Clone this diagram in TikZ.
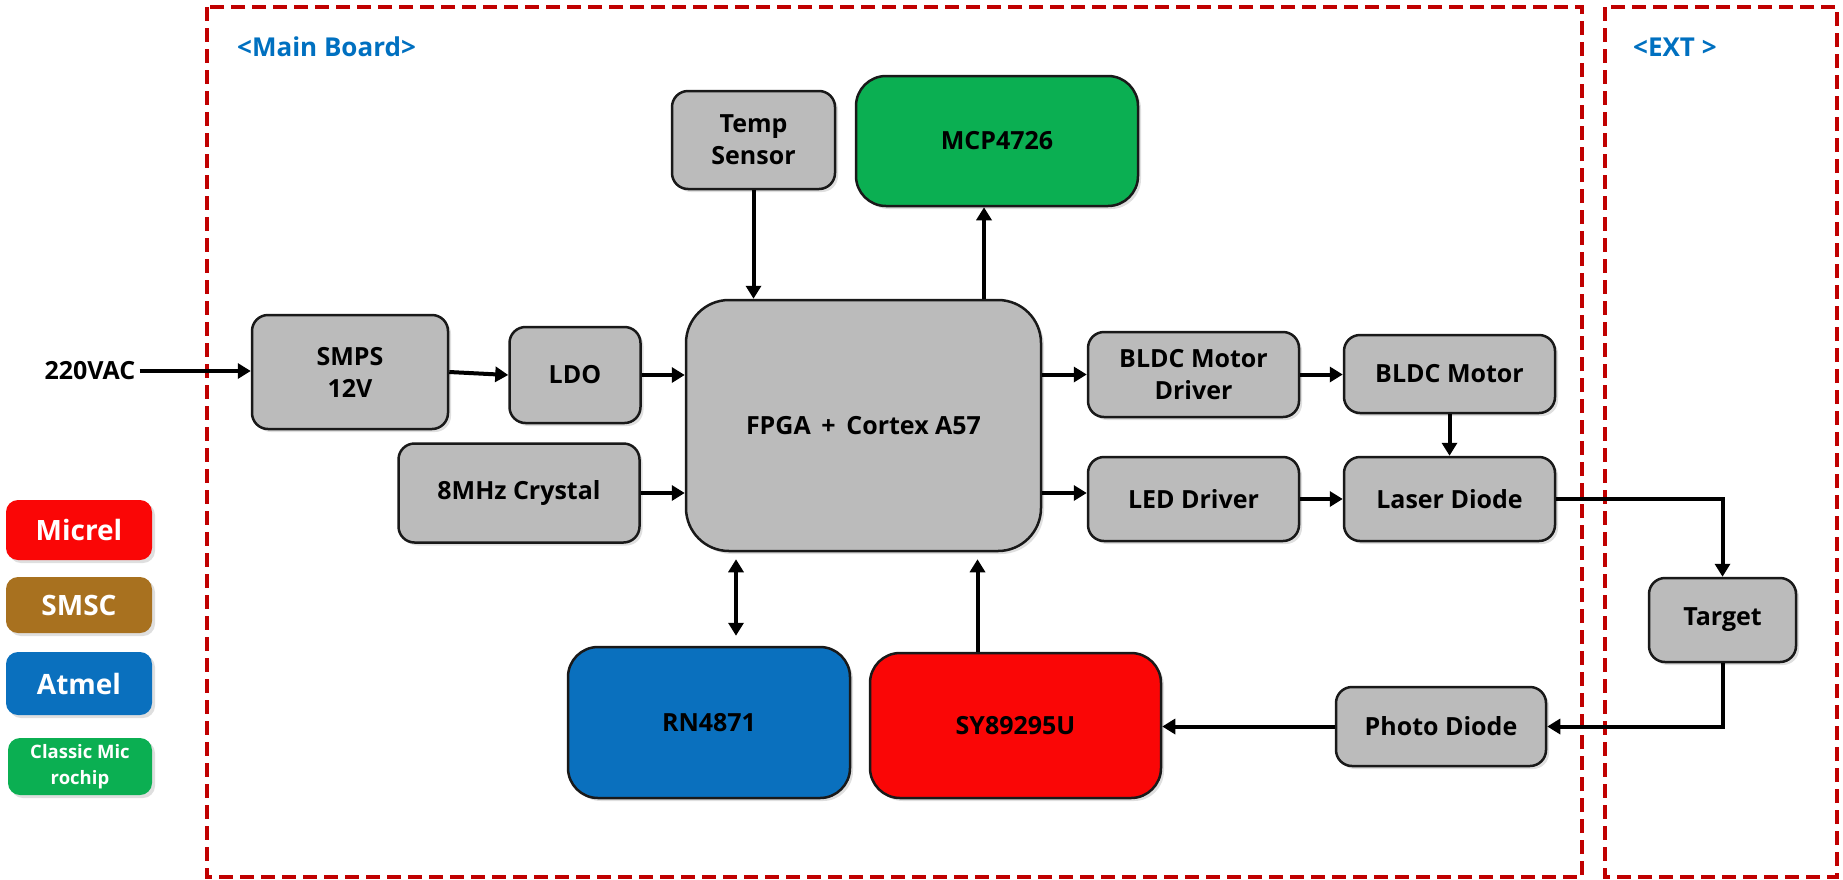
\documentclass[tikz,border=0pt]{standalone}
\usepackage{fontspec}
\setmainfont{Open Sans}
\usetikzlibrary{arrows.meta,shadows}
\definecolor{boxgray}{HTML}{BBBBBB}
\definecolor{chipgreen}{HTML}{0BAF52}
\definecolor{chipblue}{HTML}{0A70BE}
\definecolor{chipred}{HTML}{FA0606}
\definecolor{chipbrown}{HTML}{A8711F}
\definecolor{framered}{HTML}{C00000}
\definecolor{titleblue}{HTML}{0070C0}

\begin{document}
\begin{tikzpicture}[x=1pt,y=-1pt,
  blk/.style={draw=black!90,line width=2.5pt,fill=boxgray,rounded corners=16pt,inner sep=0pt,align=center,
    font=\fontsize{25}{32}\selectfont\bfseries,drop shadow={opacity=0.25,shadow xshift=3pt,shadow yshift=-3pt}},
  chip/.style={blk,rounded corners=30pt},
  tag/.style={rounded corners=12pt,inner sep=0pt,text=white,align=center,minimum width=146pt,
    font=\fontsize{28}{30}\selectfont\bfseries,drop shadow={opacity=0.25,shadow xshift=3pt,shadow yshift=-3pt}},
  wire/.style={line width=4pt,-{Triangle[length=13pt,width=15pt]}},
  bus/.style={line width=4pt,{Triangle[length=13pt,width=15pt]}-{Triangle[length=13pt,width=15pt]}},
  frame/.style={draw=framered,line width=4.5pt,dash pattern=on 14pt off 7pt},
  title/.style={anchor=west,text=titleblue,inner sep=0pt,font=\fontsize{26}{28}\selectfont\bfseries}]
  \useasboundingbox (0,0) rectangle (1843,879);

  \draw[frame] (207,7) rectangle (1582,877);
  \draw[frame] (1605,7) rectangle (1837,877);
  \node[title] (maintitle) at (237,47) {<Main Board>};
  \node[title] (exttitle) at (1633,47) {<EXT >};

  \node[inner sep=4pt,font=\fontsize{25}{28}\selectfont\bfseries] (vac) at (90,371) {220VAC};
  \node[blk,minimum width=196pt,minimum height=114pt] (smps) at (350,372) {SMPS\\12V};
  \node[blk,minimum width=131pt,minimum height=96pt] (ldo) at (575,375) {LDO};
  \node[blk,minimum width=241pt,minimum height=99pt] (xtal) at (519,493) {8MHz Crystal};
  \node[blk,minimum width=163pt,minimum height=98pt] (temp) at (753.5,140) {Temp\\Sensor};
  \node[chip,fill=chipgreen,minimum width=282pt,minimum height=130pt] (mcp) at (997,141) {MCP4726};
  \node[blk,rounded corners=43pt,minimum width=355pt,minimum height=251pt] (fpga) at (863.5,425.5) {FPGA \,+\, Cortex A57};
  \node[blk,minimum width=211pt,minimum height=85pt] (bldcdrv) at (1193.5,374.5) {BLDC Motor\\Driver};
  \node[blk,minimum width=211pt,minimum height=78pt] (bldc) at (1449.5,374) {BLDC Motor};
  \node[blk,minimum width=211pt,minimum height=84pt] (leddrv) at (1193.5,499) {LED Driver};
  \node[blk,minimum width=211pt,minimum height=84pt] (laser) at (1449.5,499) {Laser Diode};
  \node[blk,minimum width=147pt,minimum height=84pt] (target) at (1722.5,620) {Target};
  \node[blk,minimum width=210pt,minimum height=79pt] (photo) at (1441,726.5) {Photo Diode};
  \node[chip,fill=chipblue,minimum width=282pt,minimum height=151pt] (rn) at (709,722.5) {RN4871};
  \node[chip,fill=chipred,minimum width=291pt,minimum height=145pt] (sy) at (1015.5,725.5) {SY89295U};

  \node[tag,fill=chipred,minimum height=60pt] (micrel) at (79,530) {Micrel};
  \node[tag,fill=chipbrown,minimum height=56pt] (smsc) at (79,605) {SMSC};
  \node[tag,fill=chipblue,minimum height=63pt] (atmel) at (79,683.5) {Atmel};
  \node[tag,fill=chipgreen,minimum width=144pt,minimum height=57pt,font=\fontsize{18.5}{26}\selectfont\bfseries] (classic) at (80,766.5) {Classic Mic\\rochip};

  \draw[wire] (vac.east) -- (vac.east -| smps.west);
  \draw[wire] (smps.east) -- (ldo.west);
  \draw[wire] (ldo.east) -- (ldo.east -| fpga.west);
  \draw[wire] (xtal.east) -- (xtal.east -| fpga.west);
  \draw[wire] (temp.south) -- (temp.south |- fpga.north);
  \draw[wire] ([xshift=-13pt]mcp.south |- fpga.north) -- ([xshift=-13pt]mcp.south);
  \draw[wire] (fpga.east |- bldcdrv.west) -- (bldcdrv.west);
  \draw[wire] (fpga.east |- xtal.east) -- (leddrv.west |- xtal.east);
  \draw[wire] (bldcdrv.east) -- (bldcdrv.east -| bldc.west);
  \draw[wire] (leddrv.east) -- (laser.west);
  \draw[wire] (bldc.south) -- (laser.north);
  \draw[wire] (laser.east) -| (target.north);
  \draw[wire] (target.south) |- (photo.east);
  \draw[wire] (photo.west) -- (photo.west -| sy.east);
  \draw[wire,shorten >=7pt] ([xshift=-38pt]sy.north) -- ([xshift=-38pt]sy.north |- fpga.south);
  \draw[bus,shorten >=10pt,shorten <=7pt] ([xshift=27pt]rn.north |- fpga.south) -- ([xshift=27pt]rn.north);
\end{tikzpicture}
\end{document}
